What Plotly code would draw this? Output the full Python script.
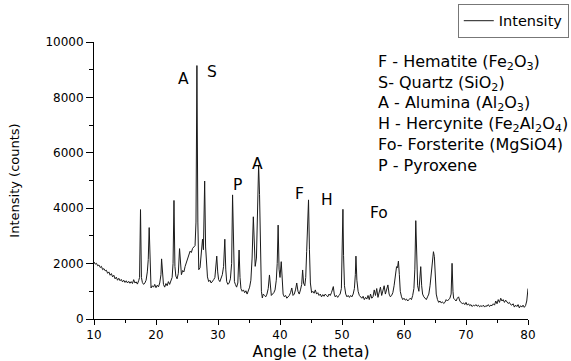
import plotly.graph_objects as go

angle = [10.0, 10.2, 10.4, 10.6, 10.8, 11.0, 11.2, 11.4, 11.6, 11.8, 12.0, 12.2, 12.4, 12.6, 12.8, 13.0, 13.2, 13.4, 13.6, 13.8,
         14.0, 14.2, 14.4, 14.6, 14.8, 15.0, 15.2, 15.4, 15.6, 15.8, 16.0, 16.2, 16.4, 16.6, 16.8, 17.0, 17.2, 17.35, 17.5, 17.65,
         17.8, 18.0, 18.2, 18.4, 18.6, 18.75, 18.9, 19.05, 19.2, 19.4, 19.6, 19.8, 20.0, 20.2, 20.4, 20.6, 20.8, 20.9, 21.05, 21.2,
         21.4, 21.6, 21.8, 22.0, 22.2, 22.4, 22.6, 22.75, 22.9, 23.05, 23.2, 23.4, 23.6, 23.8, 23.95, 24.1, 24.3, 24.5, 24.7, 24.9,
         25.1, 25.3, 25.5, 25.7, 25.9, 26.1, 26.3, 26.45, 26.6, 26.75, 26.9, 27.1, 27.3, 27.5, 27.65, 27.85, 28.0, 28.15, 28.3, 28.5,
         28.7, 28.9, 29.1, 29.3, 29.5, 29.65, 29.8, 29.95, 30.1, 30.3, 30.5, 30.7, 30.9, 31.1, 31.25, 31.4, 31.6, 31.8, 32.0, 32.2,
         32.35, 32.5, 32.65, 32.8, 33.0, 33.2, 33.4, 33.55, 33.7, 33.9, 34.1, 34.3, 34.5, 34.7, 34.9, 35.1, 35.3, 35.5, 35.7, 35.85,
         36.0, 36.2, 36.4, 36.55, 36.7, 36.85, 37.0, 37.15, 37.3, 37.5, 37.7, 37.9, 38.1, 38.3, 38.45, 38.6, 38.8, 39.0, 39.2, 39.4,
         39.55, 39.7, 39.85, 40.0, 40.2, 40.35, 40.5, 40.7, 40.9, 41.1, 41.3, 41.5, 41.7, 41.9, 42.1, 42.3, 42.5, 42.7, 42.9, 43.1,
         43.3, 43.5, 43.65, 43.8, 44.0, 44.15, 44.3, 44.45, 44.6, 44.75, 44.9, 45.1, 45.3, 45.5, 45.7, 45.9, 46.1, 46.3, 46.5, 46.7,
         46.9, 47.1, 47.3, 47.5, 47.7, 47.9, 48.1, 48.3, 48.45, 48.6, 48.75, 48.9, 49.1, 49.3, 49.5, 49.7, 49.9, 50.05, 50.15, 50.25,
         50.4, 50.6, 50.8, 51.0, 51.2, 51.4, 51.6, 51.8, 52.0, 52.15, 52.25, 52.4, 52.6, 52.8, 53.0, 53.2, 53.4, 53.6, 53.8, 54.0,
         54.2, 54.4, 54.6, 54.8, 55.0, 55.2, 55.4, 55.6, 55.8, 56.0, 56.2, 56.4, 56.6, 56.8, 57.0, 57.2, 57.4, 57.6, 57.8, 58.0,
         58.2, 58.4, 58.6, 58.8, 58.95, 59.1, 59.25, 59.4, 59.6, 59.8, 60.0, 60.2, 60.4, 60.6, 60.8, 61.0, 61.2, 61.4, 61.6, 61.75,
         61.9, 62.05, 62.2, 62.4, 62.55, 62.7, 62.85, 63.0, 63.2, 63.4, 63.6, 63.8, 64.0, 64.2, 64.4, 64.6, 64.75, 64.9, 65.05, 65.2,
         65.4, 65.6, 65.8, 66.0, 66.2, 66.4, 66.6, 66.8, 67.0, 67.2, 67.4, 67.6, 67.75, 67.9, 68.0, 68.2, 68.4, 68.6, 68.8, 69.0,
         69.2, 69.4, 69.6, 69.8, 70.0, 70.2, 70.4, 70.6, 70.8, 71.0, 71.2, 71.4, 71.6, 71.8, 72.0, 72.2, 72.4, 72.6, 72.8, 73.0,
         73.2, 73.4, 73.6, 73.8, 74.0, 74.2, 74.4, 74.6, 74.8, 75.0, 75.2, 75.4, 75.6, 75.8, 76.0, 76.2, 76.4, 76.6, 76.8, 77.0,
         77.2, 77.4, 77.6, 77.8, 78.0, 78.2, 78.4, 78.6, 78.8, 79.0, 79.2, 79.4, 79.6, 79.8, 80.0]

intensity = [2060, 1980, 2010, 1920, 1950, 1860, 1900, 1780, 1820, 1740, 1760, 1650, 1700, 1580, 1640, 1520, 1580, 1450, 1510, 1400,
             1470, 1380, 1430, 1340, 1400, 1320, 1380, 1300, 1360, 1290, 1350, 1280, 1420, 1300, 1340, 1260, 1380, 1500, 3950, 1500,
             1320, 1250, 1300, 1400, 1700, 2150, 3300, 1500, 1120, 1200, 1150, 1250, 1130, 1220, 1160, 1300, 1600, 2170, 1400, 1250,
             1150, 1280, 1200, 1350, 1250, 1400, 1500, 2000, 4280, 1900, 1550, 1450, 1650, 2540, 1800, 1600, 1750, 1700, 1900, 2050,
             2200, 2350, 2450, 2400, 2550, 2600, 2650, 3500, 9150, 3500, 1780, 1850, 2300, 2880, 2500, 4980, 2600, 1700, 1520, 1350,
             1400, 1300, 1350, 1420, 1500, 1800, 2270, 1700, 1420, 1350, 1450, 1600, 1900, 2880, 1800, 1350, 1250, 1300, 1450, 2000,
             4480, 2200, 1350, 1250, 1150, 1300, 2490, 1500, 1100, 1000, 1050, 950, 1020, 900, 1000, 1150, 1400, 2200, 3690, 2500,
             1900, 2200, 3800, 5560, 4500, 2200, 1000, 760, 900, 850, 800, 900, 1100, 1590, 1000, 850, 900, 950, 1050, 1400,
             2000, 3390, 1800, 1500, 2070, 1300, 900, 800, 850, 750, 800, 850, 950, 1120, 850, 900, 1050, 1300, 1000, 900,
             1050, 1250, 1770, 1300, 1200, 1500, 2430, 3200, 4300, 2500, 1300, 950, 1000, 930, 1050, 900, 950, 850, 900, 800,
             880, 820, 900, 850, 800, 900, 850, 950, 1050, 1170, 900, 800, 850, 780, 850, 900, 1100, 2500, 3960, 2300,
             1200, 900, 800, 850, 780, 850, 800, 900, 1100, 1600, 2270, 1400, 1000, 850, 800, 750, 820, 700, 780, 720,
             850, 700, 900, 750, 800, 1050, 850, 1100, 780, 950, 1150, 850, 1000, 1200, 900, 1100, 1230, 900, 800, 850,
             950, 1200, 1500, 1890, 1850, 2090, 1600, 1000, 800, 700, 750, 680, 720, 650, 700, 750, 700, 850, 1100, 1800,
             3550, 2200, 1200, 1000, 1400, 1890, 1200, 900, 800, 750, 700, 800, 900, 1200, 1700, 2200, 2430, 2250, 1500, 900,
             700, 600, 650, 580, 620, 560, 600, 700, 650, 700, 750, 900, 2010, 1000, 750, 700, 650, 750, 800, 650,
             600, 550, 580, 520, 600, 500, 550, 480, 520, 450, 500, 470, 520, 460, 500, 440, 480, 450, 500, 430,
             480, 460, 520, 450, 500, 480, 550, 500, 650, 550, 700, 600, 750, 650, 700, 600, 680, 620, 560, 600,
             520, 500, 550, 430, 500, 450, 520, 400, 480, 430, 500, 420, 480, 650, 1100]

peak_labels = ["A", "S", "P", "A", "F", "H", "Fo"]
peak_label_x = [24.4, 29.0, 33.2, 36.4, 43.2, 47.6, 56.0]
peak_label_y = [8660, 8900, 4840, 5600, 4510, 4300, 3830]

phase_lines = [
    "F - Hematite (Fe<sub>2</sub>O<sub>3</sub>)",
    "S- Quartz (SiO<sub>2</sub>)",
    "A - Alumina (Al<sub>2</sub>O<sub>3</sub>)",
    "H - Hercynite (Fe<sub>2</sub>Al<sub>2</sub>O<sub>4</sub>)",
    "Fo- Forsterite (MgSiO4)",
    "P - Pyroxene",
]

x_ticks = [10, 20, 30, 40, 50, 60, 70, 80]
y_ticks = [0, 2000, 4000, 6000, 8000, 10000]
y_tick_text = ["0", "2000", "4000", "6000", "8000", "10000"]

FONT = "DejaVu Sans, Arial, sans-serif"

fig = go.Figure()
fig.add_trace(go.Scatter(x=angle, y=intensity, mode="lines", name="Intensity",
                         line=dict(color="#1a1a1a", width=1)))

annotations = []
for t, x, y in zip(peak_labels, peak_label_x, peak_label_y):
    annotations.append(dict(x=x, y=y, xref="x", yref="y", text=t, showarrow=False,
                            font=dict(size=15.5, color="black", family=FONT)))

# plot area: top y=42px, bottom y=319px (277px tall)
phase_px = [63, 83.4, 103.8, 124.2, 144.6, 165]
for t, py in zip(phase_lines, phase_px):
    annotations.append(dict(x=0.650, y=(319 - py) / 277, xref="paper", yref="paper", text=t, showarrow=False,
                            xanchor="left", yanchor="middle",
                            font=dict(size=16, color="black", family=FONT)))

fig.update_layout(
    width=571, height=361,
    margin=dict(l=94, r=43, t=42, b=42, autoexpand=False),
    paper_bgcolor="white", plot_bgcolor="white",
    font=dict(family=FONT, color="black", size=12),
    showlegend=True,
    legend=dict(x=1.094, y=1.138, xanchor="right", yanchor="top",
                bordercolor="#777", borderwidth=1, bgcolor="white",
                font=dict(size=14.5, color="black", family=FONT),
                tracegroupgap=0, itemwidth=30),
    annotations=annotations,
    xaxis=dict(range=[10, 80], tickvals=x_ticks, ticks="outside", ticklen=5, tickwidth=1,
               tickcolor="black", showline=True, linecolor="black", linewidth=1,
               showgrid=False, zeroline=False,
               minor=dict(dtick=5, tick0=10, ticks="outside", ticklen=3, tickcolor="black", showgrid=False),
               tickfont=dict(size=12, color="black", family=FONT),
               title=dict(text="Angle (2 theta)", font=dict(size=15.5, color="black", family=FONT), standoff=4)),
    yaxis=dict(range=[0, 10000], tickvals=y_ticks, ticktext=y_tick_text, ticks="outside", ticklen=7, tickwidth=1,
               tickcolor="black", showline=True, linecolor="black", linewidth=1,
               showgrid=False, zeroline=False,
               minor=dict(dtick=1000, tick0=0, ticks="outside", ticklen=4, tickcolor="black", showgrid=False),
               tickfont=dict(size=12, color="black", family=FONT),
               title=dict(text="Intensity (counts)", font=dict(size=13, color="black", family=FONT), standoff=22)),
)

fig.write_html("out.html", config={"displayModeBar": False},
               post_script="document.body.style.margin='0';document.body.style.overflow='hidden';")
